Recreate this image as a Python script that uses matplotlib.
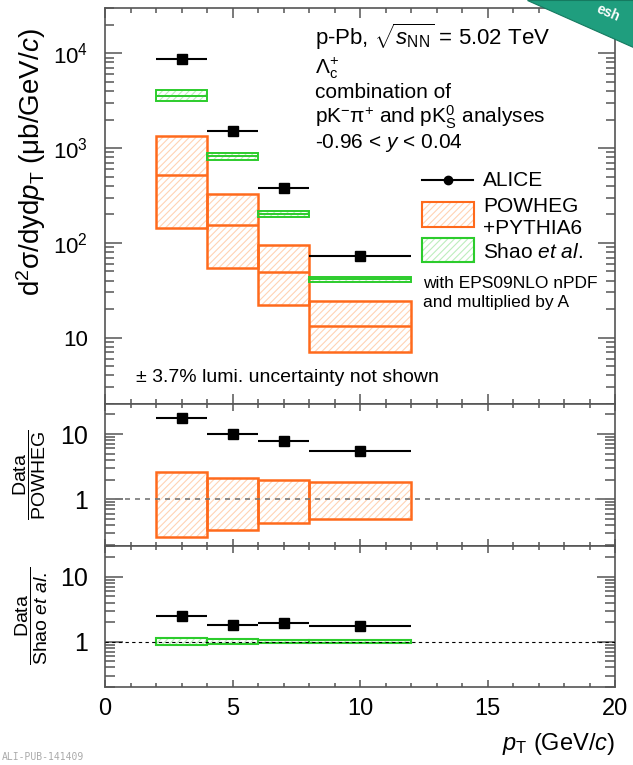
import numpy as np
import matplotlib
matplotlib.use('Agg')
import matplotlib.pyplot as plt
from matplotlib.patches import Polygon, Rectangle
from matplotlib.lines import Line2D
from matplotlib.ticker import NullFormatter, FixedLocator, MultipleLocator

plt.rcParams['font.family'] = ['Liberation Sans', 'DejaVu Sans']
plt.rcParams['mathtext.fontset'] = 'custom'
plt.rcParams['mathtext.rm'] = 'Liberation Sans'
plt.rcParams['mathtext.it'] = 'Liberation Sans:italic'
plt.rcParams['mathtext.bf'] = 'Liberation Sans:bold'
plt.rcParams['hatch.linewidth'] = 0.8

# pT bins
bin_lo = [2, 4, 6, 8]
bin_hi = [4, 6, 8, 12]
pt = [3, 5, 7, 10]

# cross section (ub/GeV/c)
alice = [8650, 1500, 380, 72]
powheg_c = [524, 153, 49.5, 13.4]
powheg_lo = [142, 55, 22, 7.1]
powheg_hi = [1350, 331, 96, 24.5]
shao_c = [3580, 817, 202, 41.4]
shao_lo = [3170, 748, 188, 39.1]
shao_hi = [4050, 886, 215, 44.2]

# ratios
ratio_powheg = [17.6, 10.0, 7.9, 5.4]
ratio_powheg_lo = [0.26, 0.34, 0.43, 0.50]
ratio_powheg_hi = [2.6, 2.13, 1.95, 1.86]
ratio_shao = [2.46, 1.81, 1.92, 1.77]
ratio_shao_lo = [0.88, 0.92, 0.95, 0.96]
ratio_shao_hi = [1.14, 1.09, 1.05, 1.05]

ORANGE = '#ff6a1c'
ORANGE_H = '#ffd3b4'
GREEN = '#2ccc2c'
GREEN_H = '#bdeebd'
AXC = '#555555'

W, H = 633, 765
fig = plt.figure(figsize=(W / 100, H / 100), dpi=100)


def px_axes(top, bottom, left=105, right=615):
    return fig.add_axes([left / W, 1 - bottom / H, (right - left) / W, (bottom - top) / H])


ax1 = px_axes(8, 404)
ax2 = px_axes(404, 546)
ax3 = px_axes(546, 687)

widths = np.array(bin_hi) - np.array(bin_lo)
xerr = [np.array(pt) - np.array(bin_lo), np.array(bin_hi) - np.array(pt)]


def band(ax, lo, hi, hatch_col, edge_col, lw=1.5):
    lo = np.array(lo)
    hi = np.array(hi)
    ax.bar(bin_lo, hi - lo, bottom=lo, width=widths, align='edge',
           facecolor='white', edgecolor=hatch_col, hatch='/////', linewidth=0, zorder=2)
    ax.bar(bin_lo, hi - lo, bottom=lo, width=widths, align='edge',
           facecolor='none', edgecolor=edge_col, linewidth=lw, zorder=3)


def style(ax, ylim, ymaj, yminl, xmaj, xminl, label_x=False, ysize=16):
    ax.set_xlim(0, 20)
    ax.set_yscale('log')
    ax.set_ylim(*ylim)
    ax.xaxis.set_major_locator(MultipleLocator(5))
    ax.xaxis.set_minor_locator(MultipleLocator(1))
    ax.yaxis.set_minor_formatter(NullFormatter())
    for s in ax.spines.values():
        s.set_color(AXC)
        s.set_linewidth(1.2)
    ax.tick_params(which='both', direction='in', top=True, right=True, color=AXC, width=1.1)
    ax.tick_params(axis='y', which='major', length=ymaj, pad=12, labelsize=ysize)
    ax.tick_params(axis='y', which='minor', length=yminl)
    ax.tick_params(axis='x', which='major', length=xmaj, pad=8, labelsize=17)
    ax.tick_params(axis='x', which='minor', length=xminl)
    if not label_x:
        ax.tick_params(axis='x', labelbottom=False)


# ---- top panel
band(ax1, powheg_lo, powheg_hi, ORANGE_H, ORANGE, lw=1.8)
ax1.hlines(powheg_c, bin_lo, bin_hi, color=ORANGE, lw=1.8, zorder=3)
band(ax1, shao_lo, shao_hi, GREEN_H, GREEN, lw=1.4)
ax1.hlines(shao_c, bin_lo, bin_hi, color=GREEN, lw=1.4, zorder=3)
ax1.errorbar(pt, alice, xerr=xerr, fmt='s', color='black', ms=7.5, lw=1.5, capsize=0, zorder=5)
style(ax1, (2, 3e4), 12, 6.5, 7, 3.6, ysize=16)
ax1.yaxis.set_major_locator(FixedLocator([10, 100, 1000, 10000]))
ax1.set_yticklabels(['10', '$10^{2}$', '$10^{3}$', '$10^{4}$'])


def at(xp, yp):
    # pixel position in the figure (top-left origin) -> axes fraction of ax1
    return ((xp - 105) / 510, (404 - yp) / 396)


ax1.text(*at(315, 37), r'p-Pb, $\sqrt{s_{\rm NN}}$ = 5.02 TeV', transform=ax1.transAxes,
         fontsize=16, va='center', ha='left')
ax1.text(*at(315, 68), r'$\Lambda_{\rm c}^{+}$', transform=ax1.transAxes,
         fontsize=15, va='center', ha='left')
ax1.text(*at(315, 92), 'combination of', transform=ax1.transAxes,
         fontsize=15, va='center', ha='left')
ax1.text(*at(315, 117), r'pK$^{-}\mathrm{\pi}^{+}$ and pK$^{0}_{\rm S}$ analyses', transform=ax1.transAxes,
         fontsize=15, va='center', ha='left')
ax1.text(*at(315, 143), r'-0.96 < $y$ < 0.04', transform=ax1.transAxes,
         fontsize=15, va='center', ha='left')
ax1.text(*at(136, 377), '± 3.7% lumi. uncertainty not shown', transform=ax1.transAxes,
         fontsize=14, va='center', ha='left')

# legend drawn by hand
x0, y0 = at(422, 180)
x1, _ = at(473, 180)
ax1.add_line(Line2D([x0, x1], [y0, y0], color='black', lw=1.5, transform=ax1.transAxes))
ax1.plot([(x0 + x1) / 2], [y0], 'o', color='black', ms=6, transform=ax1.transAxes)
ax1.text(*at(483, 181), 'ALICE', transform=ax1.transAxes, fontsize=15, va='center')

for (ytop, ybot, hc, ec) in [(202, 227, ORANGE_H, ORANGE), (238, 262, GREEN_H, GREEN)]:
    bx, by = at(422, ybot)
    bw = 52 / 510
    bh = (ybot - ytop) / 396
    ax1.add_patch(Rectangle((bx, by), bw, bh, transform=ax1.transAxes, facecolor='white',
                            edgecolor=hc, hatch='/////', lw=0))
    ax1.add_patch(Rectangle((bx, by), bw, bh, transform=ax1.transAxes, facecolor='none',
                            edgecolor=ec, lw=1.5))
ax1.text(*at(483, 206), 'POWHEG', transform=ax1.transAxes, fontsize=15, va='center')
ax1.text(*at(483, 229), '+PYTHIA6', transform=ax1.transAxes, fontsize=15, va='center')
ax1.text(*at(483, 252), r'Shao $et\ al.$', transform=ax1.transAxes, fontsize=15, va='center')
ax1.text(*at(423, 284), 'with EPS09NLO nPDF', transform=ax1.transAxes, fontsize=12.5, va='center')
ax1.text(*at(423, 302), 'and multiplied by A', transform=ax1.transAxes, fontsize=12.5, va='center')

# ---- data / POWHEG
band(ax2, ratio_powheg_lo, ratio_powheg_hi, ORANGE_H, ORANGE, lw=1.8)
ax2.axhline(1, color='#777777', ls=(0, (3, 3)), lw=1.2, zorder=4)
ax2.errorbar(pt, ratio_powheg, xerr=xerr, fmt='s', color='black', ms=7.5, lw=1.5, capsize=0, zorder=5)
style(ax2, (0.19, 29), 13, 7, 5, 3, ysize=18)
ax2.yaxis.set_major_locator(FixedLocator([1, 10]))
ax2.set_yticklabels(['1', '10'])

# ---- data / Shao
band(ax3, ratio_shao_lo, ratio_shao_hi, GREEN_H, GREEN, lw=1.5)
ax3.axhline(1, color='black', ls=(0, (3, 3)), lw=0.8, zorder=4)
ax3.errorbar(pt, ratio_shao, xerr=xerr, fmt='s', color='black', ms=7.5, lw=1.5, capsize=0, zorder=5)
style(ax3, (0.2, 30), 13, 7, 5, 3, label_x=True, ysize=18)
ax3.yaxis.set_major_locator(FixedLocator([1, 10]))
ax3.set_yticklabels(['1', '10'])

# axis titles
fig.text(31 / W, 1 - 162 / H, r'd$^{2}$σ/dyd$p_{\rm T}$ (μb/GeV/$c$)',
         rotation=90, fontsize=20, ha='center', va='center')
fig.text(30 / W, 1 - 475 / H, r'$\dfrac{\rm Data}{\rm POWHEG}$',
         rotation=90, fontsize=14, ha='center', va='center')
fig.text(32 / W, 1 - 616 / H, r'$\dfrac{\rm Data}{{\rm Shao}\ \mathit{et\ al.}}$',
         rotation=90, fontsize=14, ha='center', va='center')
fig.text(615 / W, 1 - 744 / H, r'$p_{\rm T}$ (GeV/$c$)', fontsize=17, ha='right', va='center')
fig.text(2 / W, 1 - 757 / H, 'ALI-PUB-141409', fontsize=7, family='DejaVu Sans Mono',
         color='#aaaaaa', ha='left', va='center')

# corner ribbon
rib = Polygon([[527 / W, 1.0], [1.0, 1.0], [1.0, 1 - 47 / H]], closed=True,
              transform=fig.transFigure, facecolor='#1f9e7e', edgecolor='#157a60', lw=0.8)
fig.patches.append(rib)
fig.text(608 / W, 1 - 13 / H, 'esh', rotation=-23, fontsize=10, fontweight='bold',
         color='white', ha='center', va='center')

fig.savefig('out.png', dpi=100)
